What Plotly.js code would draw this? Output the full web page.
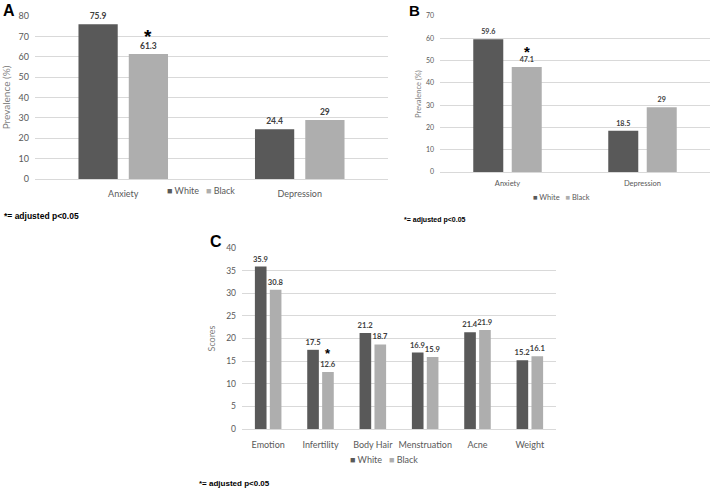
<!DOCTYPE html>
<html>
<head>
<meta charset="utf-8">
<script src="https://cdn.plot.ly/plotly-3.0.1.min.js"></script>
<style>html,body{margin:0;padding:0;background:#fff;}#chart{width:713px;height:493px;}</style>
</head>
<body>
<div id="chart"></div>
<script>
// ---- data ----
const seriesNames = ['White', 'Black'];
const categoriesAB = ['Anxiety', 'Depression'];
const whiteA = [75.9, 24.4];
const blackA = [61.3, 29];
const sigA = [true, false];          // significance flag on Black bars
const whiteB = [59.6, 18.5];
const blackB = [47.1, 29];
const sigB = [true, false];
const categoriesC = ['Emotion', 'Infertility', 'Body Hair', 'Menstruation', 'Acne', 'Weight'];
const whiteC = [35.9, 17.5, 21.2, 16.9, 21.4, 15.2];
const blackC = [30.8, 12.6, 18.7, 15.9, 21.9, 16.1];
const sigC = [false, true, false, false, false, false];
const panelLabels = ['A', 'B', 'C'];
const footnote = '*= adjusted p<0.05';
const yTitles = ['Prevalence (%)', 'Prevalence (%)', 'Scores'];

// ---- styling ----
const W = 713, H = 493;
const px = v => v / W;
const py = v => 1 - v / H;
const DARK = '#595959', LIGHT = '#aeaeae';
const GRID = '#d9d9d9', TICK = '#595959', TITLEC = '#7f7f7f', LABEL = '#404040';
const FONT = 'Lato, Calibri, "Open Sans", sans-serif';
const ARIAL = 'Arial, "Liberation Sans", sans-serif';
const BARGAP = 0.43, GROUPGAP = 0.22;
const COLORS = [DARK, LIGHT];
const NB = '\u00a0';

function mkTrace(cats, vals, si, xa, ya, fs) {
  return {
    type: 'bar', x: cats, y: vals, name: seriesNames[si],
    xaxis: xa, yaxis: ya, showlegend: false,
    marker: {color: COLORS[si]},
    text: vals.map(v => String(v)), textposition: 'outside',
    constraintext: 'none', cliponaxis: false,
    textfont: {family: FONT, size: fs, color: LABEL, weight: 'bold'},
    hoverinfo: 'x+y+name'
  };
}

const data = [
  mkTrace(categoriesAB, whiteA, 0, 'x', 'y', 8.5),
  mkTrace(categoriesAB, blackA, 1, 'x', 'y', 8.5),
  mkTrace(categoriesAB, whiteB, 0, 'x2', 'y2', 7.2),
  mkTrace(categoriesAB, blackB, 1, 'x2', 'y2', 7.2),
  mkTrace(categoriesC, whiteC, 0, 'x3', 'y3', 7.6),
  mkTrace(categoriesC, blackC, 1, 'x3', 'y3', 7.6)
];

function xAxis(dom, fs, anchor, so) {
  return {domain: dom, anchor: anchor, type: 'category', showgrid: false, showline: false,
          zeroline: false, ticks: '', ticklabelstandoff: so,
          tickfont: {family: FONT, size: fs, color: TICK}, fixedrange: true};
}
function yAxis(dom, range, dtick, fs, anchor, title, tfs, standoff) {
  return {domain: dom, anchor: anchor, range: range, dtick: dtick, showgrid: true, gridcolor: GRID,
          gridwidth: 1, zeroline: true, zerolinecolor: GRID, zerolinewidth: 1, showline: false, ticks: '',
          ticklabelstandoff: 5,
          tickfont: {family: FONT, size: fs, color: TICK}, fixedrange: true,
          title: {text: title, font: {family: FONT, size: tfs, color: TITLEC}, standoff: standoff}};
}

// Black-bar centre offset from category centre in category units
const blackOffset = (1 - BARGAP) / 4;

const annotations = [];
function addSig(vals, flags, xref, yref, size, shift) {
  flags.forEach((f, i) => {
    if (!f) return;
    annotations.push({xref: xref, yref: yref, x: i + blackOffset, y: vals[i], text: '*',
      showarrow: false, yanchor: 'middle', yshift: shift,
      font: {family: ARIAL, size: size, color: '#000', weight: 'bold'}});
  });
}
addSig(blackA, sigA, 'x', 'y', 19, 18);
addSig(blackB, sigB, 'x2', 'y2', 15, 16);
addSig(blackC, sigC, 'x3', 'y3', 13, 18);

// panel letters
[[panelLabels[0], 9, 10, 16], [panelLabels[1], 414.5, 10, 15], [panelLabels[2], 216, 241, 16]].forEach(p => {
  annotations.push({xref: 'paper', yref: 'paper', x: px(p[1]), y: py(p[2]), text: '<b>' + p[0] + '</b>',
    showarrow: false, xanchor: 'center', yanchor: 'middle', font: {family: ARIAL, size: p[3], color: '#000'}});
});
// footnotes
[[2, 216, 8.5], [402, 220, 7], [197, 483, 8]].forEach(f => {
  annotations.push({xref: 'paper', yref: 'paper', x: px(f[0]), y: py(f[1]), text: '<b>' + footnote + '</b>',
    showarrow: false, xanchor: 'left', yanchor: 'middle', font: {family: ARIAL, size: f[2], color: '#000'}});
});
// legends (compact, Excel-style)
const legendText = seriesNames.map((n, i) =>
  '<span style="color:' + COLORS[i] + '">■</span>' + NB + n).join(NB + NB + NB);
[[201, 191, 9], [561, 198, 7.5], [384, 459, 9]].forEach(l => {
  annotations.push({xref: 'paper', yref: 'paper', x: px(l[0]), y: py(l[1]), text: legendText,
    showarrow: false, xanchor: 'center', yanchor: 'middle', font: {family: FONT, size: l[2], color: TICK}});
});

const layout = {
  width: W, height: H, margin: {l: 0, r: 0, t: 0, b: 0},
  paper_bgcolor: '#fff', plot_bgcolor: '#fff',
  barmode: 'group', bargap: BARGAP, bargroupgap: GROUPGAP,
  font: {family: FONT}, showlegend: false,
  xaxis: xAxis([px(35), px(388)], 9, 'y', 8),
  yaxis: yAxis([py(179), py(16)], [0, 80], 10, 9, 'x', yTitles[0], 10, 8),
  xaxis2: xAxis([px(440), px(710)], 7.5, 'y2', 5),
  yaxis2: yAxis([py(172), py(16)], [0, 70], 10, 7, 'x2', yTitles[1], 7.5, 3),
  xaxis3: xAxis([px(242), px(556)], 9, 'y3', 9),
  yaxis3: yAxis([py(429), py(248)], [0, 40], 5, 8.5, 'x3', yTitles[2], 9, 8),
  annotations: annotations
};

Plotly.newPlot('chart', data, layout, {displayModeBar: false, staticPlot: true});
</script>
</body>
</html>
